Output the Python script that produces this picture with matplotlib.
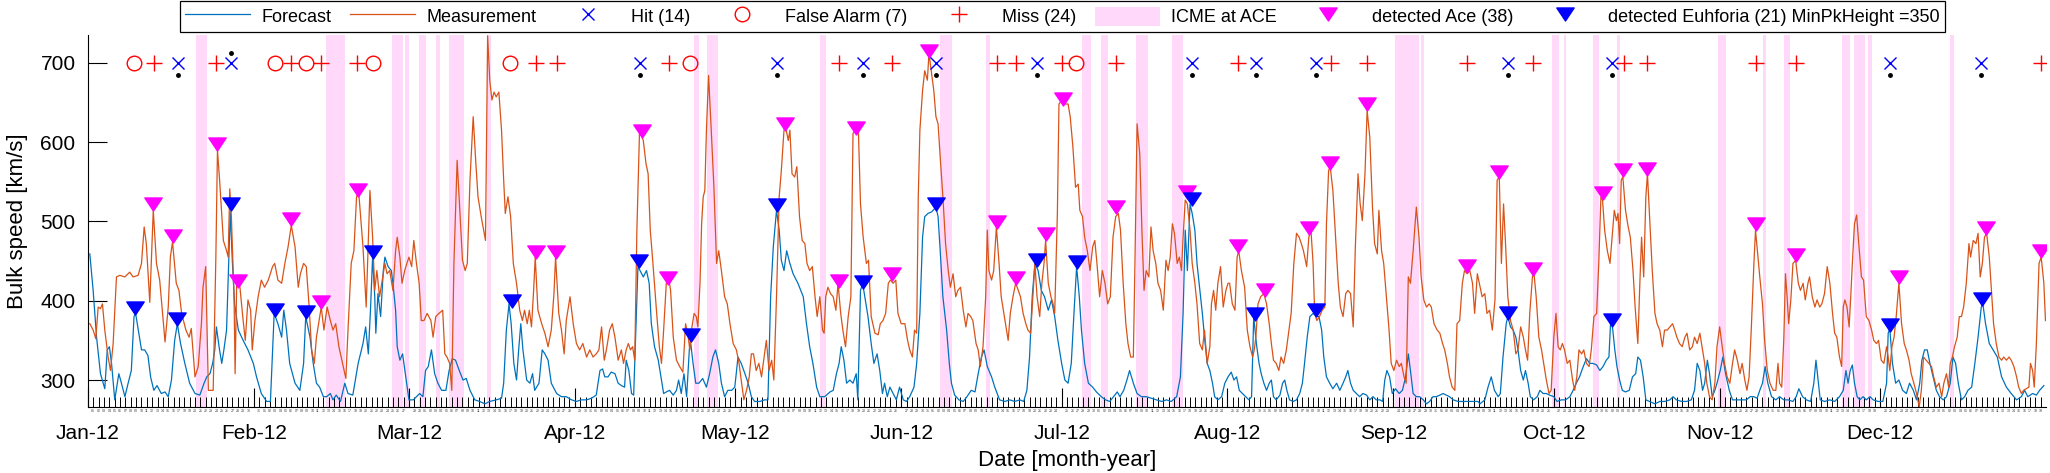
import matplotlib
matplotlib.use("Agg")
import matplotlib.pyplot as plt
import matplotlib.transforms as mtransforms
from matplotlib.lines import Line2D
from matplotlib.patches import Patch
from matplotlib.path import Path
from matplotlib.ticker import FixedLocator, FixedFormatter
import numpy as np

plt.rcParams['font.family'] = ['Liberation Sans', 'DejaVu Sans']

# ---------------- data (x = days since 1 Jan 2012) ----------------
month_labels = ["Jan-12", "Feb-12", "Mar-12", "Apr-12", "May-12", "Jun-12",
                "Jul-12", "Aug-12", "Sep-12", "Oct-12", "Nov-12", "Dec-12"]
month_days = [31, 29, 31, 30, 31, 30, 31, 31, 30, 31, 30, 31]

meas_day = [0.34, 0.96, 1.46, 1.9, 2.33, 2.7, 3.14, 3.76, 4.2, 4.7, 5.32, 5.94, 6.88, 7.8, 8.44, 9.37, 10.0, 10.5, 10.9, 11.55, 12.2, 12.8, 13.4, 14.4, 15.0, 15.4, 15.8, 16.5, 17.0, 17.5, 18.3, 18.9, 19.3, 20.0, 20.6, 21.2, 21.5, 22.0, 22.5, 23.4, 23.9, 24.2, 24.6, 25.3, 25.9, 26.2, 26.5, 26.8, 27.3, 27.5, 27.8, 28.4, 29.0, 29.4, 29.9, 30.4, 30.7, 31.2, 31.8, 32.4, 33.0, 33.7, 34.5, 34.9, 35.5, 36.2, 36.8, 37.4, 38.0, 38.7, 39.3, 39.7, 40.3, 40.8, 41.3, 41.8, 42.3, 42.7, 43.2, 43.6, 44.1, 44.7, 45.3, 45.8, 46.3, 46.9, 47.7, 48.2, 48.6, 49.2, 49.7, 50.2, 50.6,
            51.4, 52.0, 52.7, 53.2, 53.6, 54.0, 54.5, 54.9, 55.5, 55.9, 56.4, 57.0, 57.5, 57.8, 58.3, 58.7, 59.2, 59.6, 60.0, 60.5, 60.9, 61.4, 61.9, 62.3, 62.8, 63.4, 64.1, 64.5, 65.0, 65.6, 66.3, 66.7, 67.1, 67.6, 68.0, 68.4, 69.0, 69.5, 70.0, 70.5, 70.9, 71.4, 72.0, 72.5, 72.9, 73.5, 74.3, 74.7, 75.1, 75.5, 75.9, 76.3, 76.8, 77.3, 77.7, 78.0, 78.5, 79.0, 79.5, 80.1, 80.7, 81.2, 81.6, 82.1, 82.5, 82.9, 83.3, 83.6, 84.1, 84.8, 85.4, 86.0, 86.6, 87.1, 87.4, 88.0, 88.5, 89.0, 89.4, 90.1, 90.7, 91.3, 91.9, 92.5, 93.2, 93.8, 94.4, 95.0, 95.5, 96.0, 96.5, 96.9, 97.5, 98.0, 98.5, 99.1, 99.7, 100.1, 100.6, 101.0, 101.4, 101.8, 102.2, 102.6,
            103.1, 103.8, 104.3, 104.7, 105.1, 105.6, 106.3, 106.8, 107.2, 107.6, 108.1, 108.5, 108.9, 109.4, 110.0, 110.6, 111.2, 111.7, 112.2, 112.5, 112.8, 113.3, 113.7, 114.0, 114.4, 114.7, 115.0, 115.3, 115.6, 116.0, 116.5, 117.0, 117.5, 117.9, 118.4, 119.0, 119.5, 120.0, 120.6, 121.2, 121.7, 122.1, 122.6, 123.1, 123.6, 124.0, 124.4, 124.9, 125.4, 125.9, 126.3, 126.8, 127.3, 127.8, 128.2, 128.7, 129.2, 129.6, 130.1, 130.4, 130.9, 131.2, 131.6, 132.1, 132.5, 133.0, 133.5, 134.0, 134.4, 134.9, 135.4, 135.9, 136.3, 136.8, 137.3, 137.6, 137.9, 138.3, 138.8, 139.3, 139.8, 140.2, 140.7, 141.1, 141.6, 142.1, 142.6, 143.0, 143.5, 144.0, 144.4, 144.9, 145.5, 145.9, 146.4, 147.1, 147.7, 148.1, 148.6, 149.1, 149.6, 150.0, 150.5, 151.0, 151.4, 152.0, 152.7, 153.2, 153.6, 154.1, 154.5, 154.9, 155.2,
            155.5, 156.0, 156.4, 156.9, 157.2, 157.7, 158.1, 158.5, 158.9, 159.3, 159.8, 160.3, 160.8, 161.2, 161.7, 162.2, 162.6, 163.1, 163.6, 164.1, 164.5, 165.0, 165.4, 166.0, 166.4, 166.8, 167.3, 167.8, 168.1, 168.4, 168.9, 169.3, 169.8, 170.3, 170.7, 171.2, 171.6, 172.0, 172.4, 172.9, 173.4, 173.9, 174.3, 174.8, 175.3, 175.7, 176.2, 176.7, 177.0, 177.4, 177.9, 178.3, 178.7, 179.0, 179.5, 180.0, 180.4, 180.7, 181.2, 181.5, 182.0, 182.6, 183.2, 183.6, 184.1, 184.6, 185.1, 185.4, 185.9, 186.3, 186.8, 187.3, 187.8, 188.2, 188.6, 189.1, 189.6, 190.1, 190.6, 191.1, 191.6, 192.1, 192.6, 193.0, 193.5, 194.0, 194.4, 194.9, 195.4, 195.7, 196.1, 196.6, 197.0, 197.4, 197.8, 198.3, 198.7, 199.1, 199.6, 200.0, 200.5, 201.0, 201.5, 201.9, 202.3, 202.7, 203.1, 203.6, 204.0, 204.4, 204.7, 205.1, 205.5, 206.0, 206.4, 206.9, 207.3,
            207.8, 208.3, 208.7, 209.2, 209.7, 210.0, 210.4, 210.8, 211.2, 211.7, 212.2, 212.7, 213.1, 213.4, 213.9, 214.4, 214.8, 215.1, 215.6, 216.2, 216.7, 217.2, 217.7, 218.0, 218.3, 218.7, 219.2, 219.8, 220.3, 220.8, 221.2, 221.6, 222.1, 222.6, 223.0, 223.5, 224.0, 224.5, 224.9, 225.4, 225.9, 226.4, 226.8, 227.2, 227.8, 228.2, 228.6, 229.0, 229.3, 229.7, 230.2, 230.7, 231.2, 231.5, 231.9, 232.2, 232.7, 233.2, 233.7, 234.1, 234.6, 235.1, 235.5, 236.0, 236.5, 236.9, 237.4, 237.8, 238.2, 238.7, 239.1, 239.6, 240.1, 240.5, 241.0, 241.3, 241.8, 242.2, 242.7, 243.2, 243.6, 244.1, 244.6, 245.1, 245.5, 246.0, 246.4, 246.8, 247.2, 247.7, 248.3, 248.8, 249.2, 249.7, 250.2, 250.7, 251.1, 251.6, 252.2, 252.7, 253.2, 253.6, 254.1, 254.5, 255.0, 255.5, 255.9, 256.4, 256.9, 257.3, 257.8, 258.3, 258.8, 259.2, 259.7,
            260.6, 261.1, 261.5, 262.0, 262.5, 263.0, 263.4, 263.8, 264.2, 264.6, 265.0, 265.4, 265.9, 266.4, 266.9, 267.3, 267.8, 268.3, 268.7, 269.1, 269.5, 270.0, 270.3, 270.7, 271.2, 271.7, 272.1, 272.6, 273.1, 273.5, 274.0, 274.4, 274.8, 275.2, 275.6, 276.0, 276.5, 277.0, 277.5, 277.9, 278.3, 278.7, 279.2, 279.6, 280.1, 280.6, 281.0, 281.5, 282.0, 282.4, 282.8, 283.1, 283.5, 284.0, 284.5, 284.9, 285.3, 285.7, 286.0, 286.3, 286.6, 286.9, 287.4, 287.9, 288.3, 288.8, 289.2, 289.7, 290.1, 290.4, 290.8, 291.2, 291.5, 291.9, 292.4, 292.9, 293.3, 293.8, 294.3, 294.7, 295.2, 295.7, 296.2, 296.6, 297.0, 297.5, 298.0, 298.5, 298.9, 299.4, 299.9, 300.3, 300.8, 301.3, 301.8, 302.2, 302.6, 303.1, 303.6, 304.1, 304.5, 305.0, 305.4, 305.9, 306.4, 306.9, 307.4, 307.8, 308.3, 308.8, 309.2, 309.7, 310.1, 310.5, 310.9, 311.4, 311.7,
            312.5, 313.0, 313.4, 313.9, 314.4, 315.0, 315.5, 315.9, 316.2, 316.6, 317.0, 317.3, 317.6, 317.9, 318.3, 318.7, 319.2, 319.7, 320.1, 320.6, 321.0, 321.5, 321.8, 322.3, 322.8, 323.2, 323.7, 324.1, 324.6, 325.1, 325.6, 326.1, 326.5, 326.9, 327.4, 327.8, 328.1, 328.4, 328.8, 329.2, 329.5, 329.8, 330.2, 330.6, 331.0, 331.5, 331.9, 332.4, 332.9, 333.4, 333.8, 334.3, 334.7, 335.2, 335.7, 336.2, 336.5, 336.8, 337.2, 337.6, 338.0, 338.5, 339.0, 339.5, 339.9, 340.4, 340.8, 341.3, 341.8, 342.3, 342.7, 343.1, 343.6, 344.1, 344.6, 345.0, 345.5, 346.0, 346.5, 346.9, 347.4, 347.8, 348.1, 348.5, 348.9, 349.4, 349.8, 350.2, 350.6, 351.1, 351.6, 351.9, 352.4, 352.9, 353.3, 353.7, 354.1, 354.5, 354.9, 355.4, 355.8, 356.2, 356.7, 357.2, 357.7, 358.1, 358.6, 359.1, 359.5, 360.0, 360.5, 360.9, 361.4, 361.8, 362.3, 362.8, 363.1, 363.5, 363.8, 364.2, 364.7, 365.1, 365.6, 365.9]
meas_val = [371, 363, 352, 392, 390, 396, 363, 329, 312, 346, 430, 432, 430, 436, 430, 432, 447, 493, 472, 398, 514, 447, 426, 348, 392, 455, 474, 422, 413, 384, 363, 354, 365, 304, 317, 371, 417, 443, 287, 287, 455, 590, 552, 476, 463, 455, 541, 506, 405, 308, 426, 417, 375, 350, 401, 388, 338, 375, 405, 426, 417, 426, 443, 447, 426, 422, 447, 468, 495, 468, 417, 434, 447, 443, 396, 338, 321, 354, 375, 392, 363, 392, 375, 363, 371, 342, 317, 302, 363, 447, 463, 531, 537,
            468, 392, 539, 480, 413, 438, 405, 422, 447, 434, 438, 413, 463, 480, 455, 422, 438, 447, 455, 443, 476, 447, 422, 375, 375, 384, 375, 354, 380, 384, 388, 333, 329, 321, 287, 447, 577, 514, 451, 438, 447, 552, 632, 573, 531, 506, 476, 734, 678, 653, 663, 657, 663, 615, 552, 510, 531, 506, 447, 422, 388, 375, 388, 371, 388, 367, 413, 455, 388, 371, 359, 342, 363, 409, 455, 384, 363, 333, 375, 405, 371, 346, 338, 346, 329, 338, 329, 333, 338, 367, 325, 338, 363, 371, 354, 325, 338, 321, 338, 346, 338, 342, 325, 489,
            615, 602, 573, 560, 489, 447, 384, 342, 321, 363, 422, 430, 413, 354, 325, 317, 310, 371, 354, 338, 363, 384, 380, 367, 422, 497, 531, 539, 615, 684, 615, 543, 447, 463, 438, 405, 396, 371, 346, 338, 321, 300, 275, 287, 304, 333, 333, 312, 321, 304, 325, 350, 312, 325, 300, 405, 531, 564, 615, 619, 602, 615, 560, 556, 569, 506, 476, 472, 447, 438, 443, 405, 380, 405, 363, 359, 405, 417, 409, 405, 388, 422, 384, 363, 342, 380, 405, 611, 615, 615, 522, 480, 447, 451, 380, 359, 357, 371, 375, 384, 422, 426, 422, 426, 384, 371, 371, 350, 338, 329, 363, 359, 531,
            615, 665, 690, 678, 712, 686, 665, 632, 623, 581, 531, 472, 438, 417, 434, 405, 413, 417, 388, 367, 384, 380, 375, 346, 338, 317, 342, 405, 489, 438, 426, 438, 493, 447, 405, 384, 367, 350, 384, 405, 422, 413, 405, 384, 371, 363, 359, 413, 447, 405, 380, 422, 447, 476, 422, 405, 396, 384, 510, 648, 653, 648, 648, 632, 594, 543, 547, 514, 506, 480, 463, 438, 468, 476, 447, 405, 438, 422, 396, 405, 480, 506, 510, 489, 422, 371, 346, 329, 329, 447, 623, 585, 489, 413, 438, 430, 493, 463, 447, 422, 413, 388, 451, 438, 455, 497, 484, 447, 455, 438, 480, 527, 522, 489, 447, 422, 396,
            346, 338, 363, 321, 342, 396, 413, 388, 422, 443, 392, 413, 422, 422, 396, 388, 455, 463, 438, 417, 363, 342, 329, 338, 354, 396, 405, 409, 396, 371, 346, 325, 321, 312, 329, 321, 338, 363, 384, 447, 485, 480, 472, 463, 443, 480, 489, 447, 384, 375, 380, 388, 392, 497, 564, 569, 539, 480, 422, 392, 380, 409, 413, 409, 367, 468, 560, 522, 501, 560, 640, 606, 518, 472, 459, 514, 463, 447, 405, 363, 321, 312, 325, 317, 321, 304, 296, 430, 422, 463, 518, 480, 430, 401, 392, 396, 392, 371, 363, 359, 346, 338, 321, 304, 291, 287, 371, 375, 422, 438, 434, 438, 422, 384, 434,
            405, 409, 384, 388, 363, 401, 552, 556, 447, 522, 468, 405, 375, 363, 333, 338, 367, 354, 338, 325, 384, 430, 434, 405, 354, 338, 321, 300, 283, 287, 354, 384, 342, 338, 346, 338, 321, 325, 300, 287, 304, 338, 333, 338, 321, 317, 338, 380, 384, 447, 531, 527, 489, 463, 447, 480, 514, 501, 510, 472, 552, 556, 514, 493, 480, 438, 392, 346, 426, 480, 430, 531, 560, 506, 438, 384, 371, 363, 342, 363, 363, 367, 371, 363, 354, 346, 342, 354, 359, 338, 342, 354, 346, 359, 338, 321, 296, 279, 275, 296, 342, 367, 346, 321, 304, 296, 321, 338, 325, 308, 321, 300, 287, 304, 363, 447, 489,
            430, 396, 350, 312, 296, 287, 287, 321, 296, 291, 354, 434, 405, 371, 401, 447, 451, 422, 413, 422, 401, 422, 430, 405, 392, 401, 392, 396, 409, 443, 422, 384, 359, 354, 329, 317, 392, 401, 392, 367, 405, 447, 497, 508, 472, 430, 426, 380, 375, 363, 350, 346, 350, 325, 321, 342, 329, 312, 342, 354, 380, 422, 371, 346, 338, 325, 308, 296, 283, 266, 287, 329, 325, 321, 317, 304, 291, 296, 279, 296, 308, 291, 321, 329, 342, 354, 380, 380, 392, 422, 472, 455, 476, 472, 485, 430, 447, 480, 485, 455, 413, 371, 346, 329, 325, 329, 325, 329, 325, 317, 304, 291, 283, 287, 289, 291, 321, 312, 291, 346, 447, 455, 422, 375]

fc_day = [0.34, 0.96, 1.6, 2.33, 3.14, 3.6, 4.0, 4.4, 5.0, 5.76, 6.25, 6.9, 7.5, 8.1, 8.6, 8.9, 9.4, 10.0, 10.6, 11.2, 11.7, 12.3, 12.9, 13.7, 14.4, 15.0, 15.6, 16.2, 16.7, 17.3, 18.1, 19.0, 20.0, 20.9, 21.7, 22.2, 22.8, 23.3, 23.7, 24.0, 24.5, 25.0, 25.4, 25.9, 26.3, 26.6, 27.0, 27.4, 28.1, 29.0, 29.9, 30.9, 31.5, 32.4, 33.4, 34.1, 34.5, 34.8, 35.5, 36.2, 36.6, 37.1, 37.7, 38.7, 39.6, 40.3, 40.7, 41.5, 42.1, 42.7, 43.3, 44.0, 44.6, 45.3, 45.8, 46.4, 47.2, 48.0, 48.6, 49.5, 50.5,
          51.4, 51.9, 52.4, 52.8, 53.2, 53.6, 53.8, 54.2, 54.7, 55.2, 55.5, 56.1, 56.7, 57.0, 57.5, 57.8, 58.3, 58.8, 59.4, 60.0, 60.8, 61.4, 62.0, 62.6, 63.1, 63.6, 64.2, 64.8, 65.4, 66.1, 66.9, 67.5, 68.1, 68.7, 69.4, 70.1, 70.7, 71.4, 72.3, 73.2, 74.2, 75.1, 76.3, 77.3, 77.7, 78.2, 78.7, 79.1, 79.6, 80.1, 80.5, 80.9, 81.3, 82.0, 82.6, 83.1, 83.5, 84.3, 84.9, 85.4, 86.0, 86.6, 87.6, 88.5, 89.4, 90.4, 91.3, 92.2, 93.2, 94.1, 95.0, 95.7, 96.2, 96.6, 97.2, 97.8, 98.5, 99.1, 99.7, 100.3, 100.6, 101.1, 101.6, 102.0, 102.4, 102.8,
          103.8, 104.4, 104.9, 105.3, 105.9, 106.6, 107.2, 107.6, 108.1, 108.7, 109.4, 110.0, 110.4, 110.9, 111.4, 111.9, 112.4, 112.6, 113.1, 113.6, 114.2, 114.9, 115.6, 116.2, 116.8, 117.3, 117.9, 118.4, 119.0, 119.6, 120.3, 120.9, 121.5, 122.1, 122.8, 123.4, 124.0, 124.6, 125.6, 126.5, 127.1, 127.6, 128.1, 128.7, 129.2, 129.6, 130.1, 130.6, 131.2, 131.8, 132.7, 133.7, 134.3, 134.9, 135.5, 136.2, 136.8, 137.7, 138.7, 139.3, 139.9, 140.4, 140.8, 141.3, 141.8, 142.4, 143.0, 143.6, 143.9, 144.4, 144.8, 145.2, 145.8, 146.4, 146.9, 147.5, 148.0, 148.5, 148.9, 149.4, 149.9, 150.5, 151.1, 151.7, 152.4, 153.0, 153.6, 154.4, 154.9,
          155.5, 156.0, 156.4, 157.0, 157.7, 158.5, 158.9, 159.3, 159.8, 160.5, 161.0, 161.4, 162.0, 162.8, 163.6, 164.3, 165.1, 165.8, 166.4, 167.0, 167.5, 168.1, 168.9, 169.5, 170.4, 171.4, 172.3, 173.2, 174.2, 174.9, 175.5, 176.0, 176.5, 177.0, 177.6, 178.2, 178.8, 179.5, 180.1, 180.7, 181.3, 182.0, 182.6, 183.2, 183.8, 184.3, 184.8, 185.3, 185.7, 186.3, 187.0, 187.8, 188.5, 189.4, 190.2, 191.0, 191.7, 192.4, 192.9, 193.6, 194.2, 194.7, 195.4, 196.1, 196.9, 197.8, 198.8, 199.7, 200.7, 201.6, 202.5, 203.5, 204.2, 204.7, 205.1, 205.5, 206.0, 206.4, 206.9, 207.3,
          208.3, 208.7, 209.2, 209.7, 210.2, 210.6, 211.2, 211.9, 212.5, 213.1, 213.7, 214.2, 214.7, 215.2, 215.8, 216.4, 217.0, 217.5, 217.9, 218.4, 218.9, 219.3, 219.8, 220.3, 220.8, 221.2, 221.6, 222.1, 222.8, 223.3, 223.7, 224.1, 224.6, 225.3, 225.9, 226.5, 227.0, 227.4, 227.9, 228.4, 229.0, 229.6, 230.1, 230.6, 231.0, 231.5, 232.1, 232.7, 233.4, 234.0, 234.6, 235.1, 235.5, 236.0, 236.5, 237.1, 237.7, 238.3, 239.0, 239.6, 240.2, 240.8, 241.5, 242.0, 242.4, 242.8, 243.3, 243.8, 244.4, 245.1, 245.7, 246.3, 246.8, 247.2, 247.7, 248.3, 248.9, 249.6, 250.2, 250.8, 251.4, 252.0, 252.7, 253.3, 253.9, 254.5, 255.2, 256.1, 257.0, 258.0, 258.9, 259.8,
          260.2, 261.1, 261.7, 262.3, 262.9, 263.6, 264.0, 264.5, 265.1, 265.4, 265.9, 266.4, 266.9, 267.3, 267.8, 268.3, 268.7, 269.2, 269.6, 270.2, 270.9, 271.4, 272.0, 272.6, 273.2, 274.0, 274.6, 275.4, 276.2, 277.0, 277.6, 278.2, 278.8, 279.5, 280.1, 280.7, 281.3, 282.0, 282.6, 283.2, 283.8, 284.3, 284.6, 284.9, 285.4, 285.8, 286.3, 286.8, 287.4, 288.1, 288.7, 289.3, 289.7, 290.2, 290.7, 291.2, 291.9, 292.9, 293.8, 294.7, 295.7, 296.3, 296.9, 297.9, 298.8, 299.7, 300.3, 300.8, 301.3, 301.8, 302.2, 302.7, 303.1, 303.6, 304.1, 304.5, 305.1, 305.6, 306.1, 306.8, 307.4, 308.1, 309.1, 310.0, 310.7, 311.4, 312.0,
          312.5, 313.0, 313.5, 314.0, 314.7, 315.5, 316.2, 317.0, 317.8, 318.7, 319.3, 319.8, 320.5, 321.2, 322.0, 322.6, 323.0, 323.4, 323.8, 324.6, 325.6, 326.5, 327.4, 328.1, 328.6, 329.0, 329.4, 329.8, 330.2, 330.7, 331.2, 331.8, 332.4, 333.1, 333.7, 334.6, 335.5, 336.2, 336.5, 336.8, 337.3, 337.9, 338.5, 339.2, 339.9, 340.5, 341.2, 341.8, 342.4, 342.8, 343.3, 343.8, 344.3, 344.9, 345.5, 346.1, 346.8, 347.4, 348.1, 348.6, 349.1, 349.6, 350.2, 350.8, 351.4, 352.1, 352.7, 353.3, 353.9, 354.2, 354.7, 355.4, 356.1, 356.9, 357.7, 358.6, 359.5, 360.5, 361.4, 362.0, 362.6, 363.5, 364.2, 364.8, 365.6]
fc_val = [459, 413, 354, 308, 289, 338, 342, 321, 275, 308, 296, 279, 296, 312, 380, 384, 363, 338, 338, 331, 304, 287, 293, 283, 285, 279, 300, 350, 371, 346, 321, 296, 283, 281, 296, 304, 308, 321, 338, 367, 342, 321, 338, 363, 447, 512, 447, 396, 363, 350, 338, 321, 304, 283, 273, 273, 338, 384, 371, 354, 388, 363, 321, 296, 287, 321, 380, 354, 321, 296, 291, 279, 279, 283, 275, 281, 273, 296, 283, 281, 321,
          346, 367, 333, 388, 455, 405, 359, 409, 380, 438, 455, 443, 438, 422, 388, 342, 325, 333, 304, 275, 275, 279, 283, 279, 312, 317, 338, 308, 296, 287, 287, 312, 327, 325, 312, 300, 302, 287, 275, 273, 270, 273, 275, 277, 296, 363, 396, 371, 321, 300, 338, 371, 338, 300, 296, 308, 287, 296, 338, 333, 325, 296, 283, 279, 279, 275, 273, 275, 275, 277, 281, 312, 314, 304, 304, 310, 308, 296, 293, 291, 325, 312, 283, 281, 363, 443,
          430, 438, 422, 371, 342, 325, 300, 283, 285, 287, 281, 287, 300, 283, 308, 279, 338, 350, 321, 296, 296, 302, 291, 308, 329, 338, 321, 296, 279, 287, 287, 291, 329, 321, 308, 296, 279, 273, 273, 275, 275, 405, 468, 514, 489, 451, 438, 463, 447, 434, 422, 405, 371, 342, 321, 291, 279, 279, 285, 287, 308, 321, 342, 325, 296, 300, 296, 308, 275, 413, 422, 405, 380, 346, 321, 333, 312, 283, 296, 279, 291, 283, 275, 291, 275, 273, 279, 291, 321,
          384, 480, 506, 510, 512, 518, 506, 463, 405, 363, 321, 296, 281, 275, 273, 279, 287, 285, 308, 329, 338, 317, 304, 291, 275, 273, 275, 273, 275, 273, 287, 329, 405, 447, 438, 413, 405, 388, 401, 380, 350, 321, 300, 296, 321, 384, 443, 405, 363, 321, 296, 291, 285, 279, 275, 273, 279, 285, 279, 287, 300, 312, 296, 283, 279, 279, 277, 275, 273, 275, 273, 279, 304, 384, 489, 438, 522, 510, 489, 447,
          384, 354, 321, 312, 296, 279, 275, 279, 296, 304, 310, 300, 304, 287, 283, 279, 275, 279, 380, 346, 321, 308, 296, 287, 296, 300, 279, 275, 281, 296, 300, 287, 275, 273, 275, 283, 296, 321, 354, 380, 384, 380, 380, 363, 329, 304, 296, 289, 296, 287, 296, 304, 312, 296, 287, 283, 279, 283, 281, 275, 279, 275, 275, 273, 300, 312, 304, 283, 289, 283, 287, 304, 333, 312, 283, 279, 279, 275, 270, 273, 279, 279, 281, 283, 281, 279, 275, 273, 273, 273, 273, 273,
          270, 275, 291, 304, 287, 279, 283, 329, 371, 380, 367, 363, 354, 338, 312, 300, 312, 296, 279, 275, 279, 287, 283, 283, 281, 279, 273, 275, 275, 279, 287, 296, 304, 317, 327, 321, 321, 319, 312, 317, 325, 329, 371, 371, 338, 317, 300, 287, 285, 287, 304, 308, 329, 325, 304, 275, 273, 270, 273, 273, 275, 279, 275, 273, 273, 275, 287, 321, 312, 287, 296, 325, 308, 279, 287, 296, 312, 329, 308, 287, 275, 275, 275, 275, 279, 279, 277,
          287, 296, 317, 296, 279, 275, 279, 275, 275, 273, 279, 289, 279, 275, 273, 296, 325, 300, 275, 273, 275, 273, 279, 287, 312, 296, 312, 319, 296, 279, 275, 279, 275, 279, 275, 273, 273, 296, 359, 365, 321, 296, 300, 287, 283, 296, 287, 275, 296, 325, 338, 338, 321, 304, 287, 279, 275, 279, 296, 329, 321, 296, 275, 279, 287, 291, 321, 354, 392, 396, 371, 346, 338, 329, 304, 291, 283, 275, 279, 287, 279, 283, 281, 287, 293]

# detected peaks (day, peak value)
ace_peak_day = [12.2, 15.8, 24.2, 28.1, 38.0, 43.5, 50.5, 83.7, 87.4, 103.5, 108.5, 130.2, 140.3, 143.5, 150.2,
                157.2, 170.0, 173.5, 179.0, 182.3, 192.2, 205.5, 215.0, 220.0, 228.2, 232.2, 239.0, 257.8,
                263.8, 270.2, 283.1, 286.9, 291.4, 311.7, 319.2, 338.5, 354.7, 365.1]
ace_peak_val = [514, 474, 590, 417, 495, 390, 531, 453, 453, 606, 420, 615, 417, 609, 426,
                707, 491, 420, 476, 646, 510, 529, 461, 405, 483, 566, 640, 436,
                554, 432, 527, 556, 558, 489, 449, 422, 483, 455]
euh_peak_day = [8.75, 16.7, 26.8, 34.9, 40.8, 53.3, 79.2, 103.0, 112.8, 128.8, 144.8, 158.5, 177.3, 184.8,
                206.3, 218.1, 229.6, 265.4, 284.8, 336.8, 354.1]
euh_peak_val = [382, 369, 514, 380, 378, 453, 392, 442, 348, 512, 415, 514, 443, 441,
                520, 375, 380, 376, 367, 361, 394]

# event classification (day of event)
hit_day = [16.8, 26.8, 103.1, 128.7, 144.8, 158.5, 177.3, 206.3, 218.3, 229.6, 265.4, 284.8, 336.8, 353.9]
hit_dot_val = [684, 712, 684, 684, 684, 684, 684, 684, 684, 684, 684, 684, 684, 684]
false_alarm_day = [8.6, 34.9, 40.7, 53.3, 78.8, 112.6, 184.6]
miss_day = [12.3, 24.0, 37.9, 43.5, 50.2, 83.8, 87.6, 108.6, 140.3, 150.3, 170.0, 173.5, 182.0, 192.2,
            215.0, 232.3, 239.0, 257.7, 270.2, 287.1, 291.5, 311.7, 319.2, 365.0]
event_level = 700

# ICME intervals at ACE (start day, end day)
icme_start = [20.15, 44.4, 56.9, 59.2, 61.9, 65.0, 67.5, 74.5, 113.2, 115.8, 136.8, 159.3, 167.9, 185.8,
              189.3, 195.9, 202.7, 244.3, 249.1, 273.7, 275.9, 281.3, 285.8, 304.6, 313.1, 317.0, 327.9,
              330.2, 332.7, 348.1]
icme_end = [22.3, 48.0, 58.8, 60.0, 63.1, 65.8, 70.3, 75.4, 114.2, 117.8, 137.9, 161.5, 168.6, 187.4,
            190.6, 198.2, 204.7, 248.8, 249.7, 275.0, 276.2, 282.5, 286.4, 306.1, 313.7, 318.1, 329.4,
            332.2, 333.5, 348.8]

# ---------------- styling ----------------
C_FC = '#0072BD'
C_MEAS = '#D95319'
C_ICME = '#FFD8FA'
W, H = 2050, 473
fig = plt.figure(figsize=(W / 100, H / 100), dpi=100)
ax = fig.add_axes([88 / W, 66 / H, (2046 - 88) / W, (438 - 66) / H])

for s, e in zip(icme_start, icme_end):
    ax.axvspan(s, e, color=C_ICME, lw=0, zorder=0)

ax.plot(fc_day, fc_val, color=C_FC, lw=0.9, zorder=2)
ax.plot(meas_day, meas_val, color=C_MEAS, lw=0.9, zorder=2)

# downward triangle, wider than tall
tri = Path([(-1.0, 0.75), (1.0, 0.75), (0.0, -0.75), (-1.0, 0.75)],
           [Path.MOVETO, Path.LINETO, Path.LINETO, Path.CLOSEPOLY])
tri_ms = 12.5
tri_off = mtransforms.offset_copy(ax.transData, fig=fig, x=0, y=0.375 * tri_ms, units='points')
ax.plot(ace_peak_day, ace_peak_val, ls='none', marker=tri, ms=tri_ms, mfc='#FF00FF', mec='#FF00FF',
        transform=tri_off, zorder=4)
ax.plot(euh_peak_day, euh_peak_val, ls='none', marker=tri, ms=tri_ms, mfc='#0000FF', mec='#0000FF',
        transform=tri_off, zorder=5)

ax.plot(hit_day, [event_level] * len(hit_day), ls='none', marker='x', ms=8, mew=1.0, color='#0000FF', zorder=6)
ax.plot(hit_day, hit_dot_val, ls='none', marker='.', ms=5, color='black', zorder=6)
ax.plot(false_alarm_day, [event_level] * len(false_alarm_day), ls='none', marker='o', ms=10.5, mew=1.0,
        mfc='none', mec='#FF0000', zorder=6)
ax.plot(miss_day, [event_level] * len(miss_day), ls='none', marker='+', ms=11, mew=1.0, color='#FF0000', zorder=6)

ax.set_xlim(0, 366)
ax.set_ylim(266, 735)

# axes decoration
for side in ('top', 'right'):
    ax.spines[side].set_visible(False)
ax.spines['left'].set_linewidth(0.8)
ax.spines['bottom'].set_linewidth(0.8)

month_start = list(np.cumsum([0] + month_days[:-1]))
ax.xaxis.set_major_locator(FixedLocator(month_start))
ax.xaxis.set_major_formatter(FixedFormatter(month_labels))
day_pos, day_lab = [], []
for ms_, nd in zip(month_start, month_days):
    for k in range(nd):
        day_pos.append(ms_ + k)
        day_lab.append('%02d' % (k + 1))
ax.xaxis.set_minor_locator(FixedLocator(day_pos))
ax.xaxis.set_minor_formatter(FixedFormatter(day_lab))
ax.tick_params(axis='x', which='major', direction='in', length=14, width=0.8, labelsize=15, pad=12)
ax.tick_params(axis='x', which='minor', direction='in', length=7, width=0.7, labelsize=2.6, pad=1.5,
               labelcolor='#444444')
ax.set_yticks([300, 400, 500, 600, 700])
ax.tick_params(axis='y', which='major', direction='in', length=14, width=0.8, labelsize=15, pad=9)

ax.set_xlabel('Date [month-year]', fontsize=16, labelpad=5)
ax.set_ylabel('Bulk speed [km/s]', fontsize=16, labelpad=9)

handles = [
    Line2D([], [], color=C_FC, lw=0.9),
    Line2D([], [], color=C_MEAS, lw=0.9),
    Line2D([], [], ls='none', marker='x', ms=8, mew=1.0, color='#0000FF'),
    Line2D([], [], ls='none', marker='o', ms=10.5, mew=1.0, mfc='none', mec='#FF0000'),
    Line2D([], [], ls='none', marker='+', ms=11, mew=1.0, color='#FF0000'),
    Patch(facecolor=C_ICME, edgecolor='none'),
    Line2D([], [], ls='none', marker=tri, ms=tri_ms, mfc='#FF00FF', mec='#FF00FF'),
    Line2D([], [], ls='none', marker=tri, ms=tri_ms, mfc='#0000FF', mec='#0000FF'),
]
labels = ['Forecast', 'Measurement', 'Hit (14)', 'False Alarm (7)', 'Miss (24)', 'ICME at ACE',
          'detected Ace (38)', 'detected Euhforia (21) MinPkHeight =350']
leg = fig.legend(handles, labels, loc='center', ncol=8, mode='expand',
                 bbox_to_anchor=(180 / W, (H - 32) / H, (1945 - 180) / W, 31 / H),
                 fontsize=13, frameon=True, fancybox=False, framealpha=1, edgecolor='black',
                 handlelength=3.6, handleheight=1.3, handletextpad=0.6, borderpad=0.3,
                 columnspacing=1.0, borderaxespad=0)
leg.get_frame().set_linewidth(0.9)

fig.savefig('out.png', dpi=100)
